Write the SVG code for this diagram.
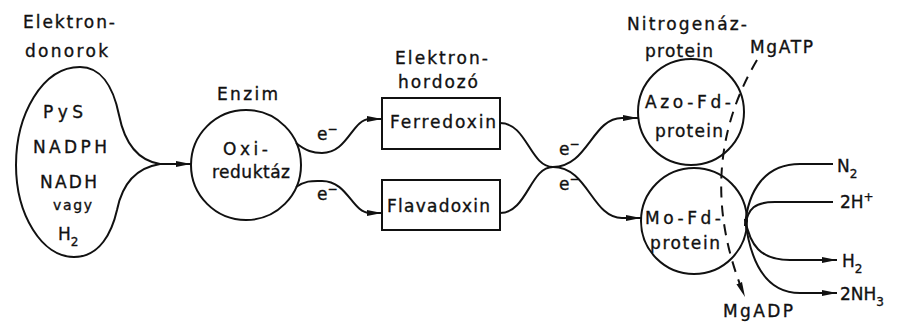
<svg xmlns="http://www.w3.org/2000/svg" width="897" height="324" viewBox="0 0 897 324">
  <style>
    text { font-family: "DejaVu Sans", "Liberation Sans", sans-serif; font-size: 17px; fill: #111; stroke: #111; stroke-width: 0.35px; }
    .sm { font-size: 14px; }
    .sub { font-size: 12px; }
    .shape { fill: none; stroke: #111; stroke-width: 2; }
    .wire { fill: none; stroke: #111; stroke-width: 2; }
    .dash { fill: none; stroke: #111; stroke-width: 2; stroke-dasharray: 11 8; }
  </style>
  <defs>
    <marker id="arr" markerWidth="16" markerHeight="8" refX="15" refY="4" orient="auto" markerUnits="userSpaceOnUse">
      <path d="M0,1 L15,4 L0,7 Z" fill="#111"/>
    </marker>
  </defs>
  <rect width="897" height="324" fill="#fff"/>

  <!-- electron donors -->
  <g id="donors">
    <text x="23" y="28" textLength="92" lengthAdjust="spacing">Elektron-</text>
    <text x="25" y="57" textLength="83" lengthAdjust="spacing">donorok</text>
    <path class="shape" d="M160,164 C135,160 124,140 119,115 C113,85 100,67 80,67 C42,67 16,115 16,165 C16,215 42,257 74,257 C100,257 112,232 117,210 C122,185 135,168 160,164 Z"/>
    <text x="43" y="118" textLength="40" lengthAdjust="spacing">PyS</text>
    <text x="33" y="153" textLength="74" lengthAdjust="spacing">NADPH</text>
    <text x="40" y="188" textLength="57" lengthAdjust="spacing">NADH</text>
    <text class="sm" x="53" y="210" textLength="39" lengthAdjust="spacing">vagy</text>
    <text x="58" y="240">H<tspan class="sub" dy="6">2</tspan></text>
  </g>

  <!-- enzyme -->
  <g id="enzyme">
    <text x="217" y="100" textLength="61" lengthAdjust="spacing">Enzim</text>
    <circle class="shape" cx="246" cy="165" r="55"/>
    <text x="223" y="155" textLength="45" lengthAdjust="spacing">Oxi-</text>
    <text x="212" y="178" textLength="78" lengthAdjust="spacing">reduktáz</text>
  </g>

  <!-- electron carriers -->
  <g id="carrier-label">
    <text x="395" y="64" textLength="93" lengthAdjust="spacing">Elektron-</text>
    <text x="398" y="88" textLength="80" lengthAdjust="spacing">hordozó</text>
  </g>
  <g id="ferredoxin">
    <rect class="shape" x="382" y="98" width="118" height="51"/>
    <text x="390" y="128" textLength="106" lengthAdjust="spacing">Ferredoxin</text>
  </g>
  <g id="flavadoxin">
    <rect class="shape" x="382" y="180" width="118" height="50"/>
    <text x="387" y="212" textLength="103" lengthAdjust="spacing">Flavadoxin</text>
  </g>

  <!-- nitrogenase proteins -->
  <g id="nitrogenase-label">
    <text x="627" y="30" textLength="120" lengthAdjust="spacing">Nitrogenáz-</text>
    <text x="645" y="57" textLength="68" lengthAdjust="spacing">protein</text>
  </g>
  <g id="azo-fd">
    <circle class="shape" cx="691" cy="112" r="53"/>
    <text x="645" y="108" textLength="86" lengthAdjust="spacing">Azo-Fd-</text>
    <text x="655" y="137" textLength="68" lengthAdjust="spacing">protein</text>
  </g>
  <g id="mo-fd">
    <circle class="shape" cx="694" cy="221" r="53"/>
    <text x="645" y="224" textLength="76" lengthAdjust="spacing">Mo-Fd-</text>
    <text x="650" y="249" textLength="70" lengthAdjust="spacing">protein</text>
  </g>

  <!-- cofactors and products -->
  <g id="mgatp"><text x="750" y="53" textLength="63" lengthAdjust="spacing">MgATP</text></g>
  <g id="mgadp"><text x="723" y="317" textLength="70" lengthAdjust="spacing">MgADP</text></g>
  <g id="n2"><text x="837" y="172">N<tspan class="sub" dy="6">2</tspan></text></g>
  <g id="h-ion"><text x="840" y="208">2H<tspan class="sub" dy="-7">+</tspan></text></g>
  <g id="h2"><text x="842" y="267">H<tspan class="sub" dy="6">2</tspan></text></g>
  <g id="nh3"><text x="840" y="300">2NH<tspan class="sub" dy="6">3</tspan></text></g>

  <!-- electron flow and reaction connectors -->
  <g id="connectors">
    <path class="wire" d="M160,164 L191,164" marker-end="url(#arr)"/>
    <path class="wire" d="M296,143 C306,151 313,153 322,153 C348,153 352,119 370,119 L382,119" marker-end="url(#arr)"/>
    <path class="wire" d="M296,187 C306,180 313,181 322,181 C348,181 352,213 370,213 L382,213" marker-end="url(#arr)"/>
    <path class="wire" d="M500,123 C527,123 530,167 553,167 C588,167 592,118 622,118 L638,118" marker-end="url(#arr)"/>
    <path class="wire" d="M500,213 C527,213 530,167 553,167 C588,167 592,218 622,218 L641,218" marker-end="url(#arr)"/>
    <path class="wire" d="M745,226 C748,190 765,164 800,164 L833,164"/>
    <path class="wire" d="M745,226 C748,208 755,202 775,202 L833,202"/>
    <path class="wire" d="M745,219 C750,245 760,260 790,260 L837,260" marker-end="url(#arr)"/>
    <path class="wire" d="M745,219 C750,260 765,293 800,293 L837,293" marker-end="url(#arr)"/>
    <path class="dash" d="M757,60 Q692,170 745,297" marker-end="url(#arr)"/>
  </g>

  <!-- electron labels -->
  <g id="electrons">
    <text x="317" y="140">e<tspan class="sub" dy="-7">−</tspan></text>
    <text x="317" y="200">e<tspan class="sub" dy="-7">−</tspan></text>
    <text x="559" y="155">e<tspan class="sub" dy="-7">−</tspan></text>
    <text x="559" y="190">e<tspan class="sub" dy="-7">−</tspan></text>
  </g>
</svg>
